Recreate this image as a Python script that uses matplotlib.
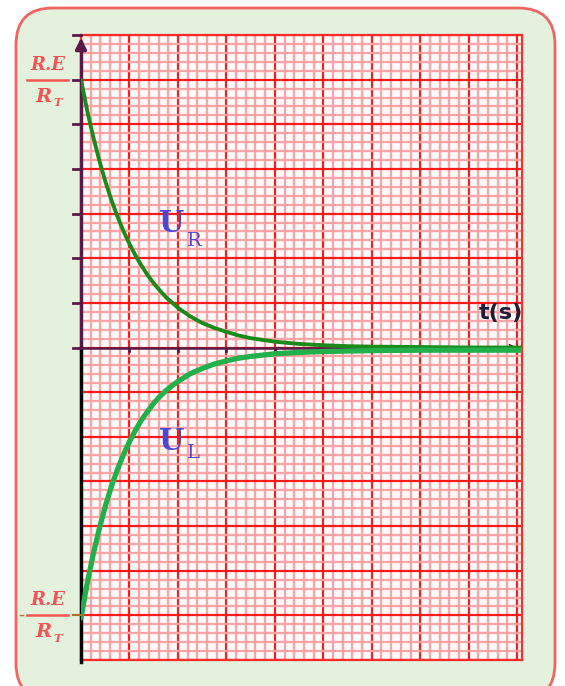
import numpy as np
import matplotlib
matplotlib.use("Agg")
import matplotlib.pyplot as plt
from matplotlib.patches import FancyBboxPatch
from matplotlib.lines import Line2D

# data (in grid major divisions)
t_R = [0, 0.125, 0.25, 0.375, 0.5, 0.625, 0.75, 0.875, 1.0, 1.125, 1.25, 1.375, 1.5, 1.625,
       1.75, 1.875, 2.0, 2.25, 2.5, 2.75, 3.0, 3.25, 3.5, 3.75, 4.0, 4.5, 5.0, 5.5, 6.0, 7.0, 8.0, 9.1]
u_R = [6.0, 5.32, 4.73, 4.20, 3.73, 3.31, 2.94, 2.61, 2.32, 2.06, 1.83, 1.62, 1.44, 1.28,
       1.13, 1.01, 0.89, 0.70, 0.55, 0.44, 0.35, 0.27, 0.21, 0.17, 0.13, 0.08, 0.05, 0.03, 0.02, 0.01, 0.0, 0.0]
t_L = [0, 0.125, 0.25, 0.375, 0.5, 0.625, 0.75, 0.875, 1.0, 1.125, 1.25, 1.375, 1.5, 1.625,
       1.75, 1.875, 2.0, 2.25, 2.5, 2.75, 3.0, 3.25, 3.5, 3.75, 4.0, 4.5, 5.0, 6.0, 7.0, 9.1]
u_L = [-6.0, -5.24, -4.58, -4.01, -3.50, -3.06, -2.68, -2.34, -2.05, -1.79, -1.56, -1.37, -1.19, -1.04,
       -0.91, -0.80, -0.70, -0.53, -0.41, -0.31, -0.24, -0.18, -0.14, -0.11, -0.08, -0.05, -0.03, -0.01, 0.0, 0.0]
label_top = "R.E"
label_bot = "R"
label_bot_sub = "T"
curve_R = "U"
curve_L = "U"
x_label = "t(s)"

W, H = 565, 686
fig = plt.figure(figsize=(W / 100, H / 100), dpi=100)

def fx(px):
    return px / W

def fy(py):
    return 1 - py / H

# rounded background
bg = FancyBboxPatch((fx(16), fy(700)), fx(555) - fx(16), fy(8) - fy(700),
                    boxstyle="round,pad=0,rounding_size=0.065",
                    transform=fig.transFigure, facecolor='#e4f1dc',
                    edgecolor='#f06464', lw=2, mutation_aspect=W / H, zorder=-10)
fig.patches.append(bg)

ax = fig.add_axes([fx(81), fy(660), fx(522) - fx(81), fy(35) - fy(660)])
ax.set_zorder(2)
ax.set_facecolor('white')
ax.set_xlim(0, 9.1)
ax.set_ylim(-7, 7)
ax.set_xticks(np.arange(0, 9.1, 1))
ax.set_xticks(np.arange(0, 9.1, 0.2), minor=True)
ax.set_yticks(np.arange(-7, 7.1, 1))
ax.set_yticks(np.arange(-7, 7.1, 0.2), minor=True)
ax.grid(which='minor', color='#ffa4a4', lw=1.7)
ax.grid(which='major', color='#ff1a1a', lw=1.6)
ax.tick_params(which='both', length=0, labelleft=False, labelbottom=False)
for s in ax.spines.values():
    s.set_color('#ff2a2a')
    s.set_linewidth(1.6)
ax.set_axisbelow(True)

purple = '#5a1a48'
# axes lines
ax.plot([0, 0], [0, 6.85], color=purple, lw=2.5, zorder=5, clip_on=False)
ax.plot([0, 0], [-7.05, 0], color='black', lw=2.5, zorder=5, clip_on=False)
ax.annotate('', xy=(0, 7.0), xytext=(0, 6.6),
            arrowprops=dict(arrowstyle='-|>', color=purple, lw=2.5,
                            mutation_scale=16), zorder=6, annotation_clip=False)
ax.plot([0, 8.95], [0, 0], color=purple, lw=1.8, zorder=5)
ax.annotate('', xy=(9.05, 0), xytext=(8.8, 0),
            arrowprops=dict(arrowstyle='->', color=purple, lw=1.2,
                            mutation_scale=10), zorder=6)
# y ticks (top half)
for yv in range(0, 8):
    ax.plot([-0.17, 0], [yv, yv], color=purple, lw=2, clip_on=False, zorder=5)
ax.plot([-0.17, 0], [-6, -6], color='#b07030', lw=1.5, clip_on=False, zorder=5)
for xv in range(1, 9):
    ax.plot([xv, xv], [0, -0.07], color=purple, lw=2, zorder=5)

# curves
ax.plot(t_R, u_R, color='#1a8a1a', lw=2.8, zorder=7, solid_capstyle='round',
        solid_joinstyle='round')
ax.plot(t_L, np.array(u_L) - 0.06, color='#22b04a', lw=3.8, zorder=7, solid_capstyle='round',
        solid_joinstyle='round')

red = '#f25555'
def frac(cy, minus=False):
    fig.text(fx(48), fy(cy - 15), label_top, color=red, fontsize=13,
             family='DejaVu Serif', style='italic', weight='bold',
             ha='center', va='center')
    fig.add_artist(Line2D([fx(27), fx(68)], [fy(cy), fy(cy)], color=red, lw=1.8,
                          transform=fig.transFigure))
    fig.text(fx(44), fy(cy + 17), label_bot, color=red, fontsize=14,
             family='DejaVu Serif', style='italic', weight='bold',
             ha='center', va='center')
    fig.text(fx(58), fy(cy + 23), label_bot_sub, color=red, fontsize=8,
             family='DejaVu Serif', style='italic', weight='bold',
             ha='center', va='center')
    if minus:
        fig.text(fx(21), fy(cy), '-', color='#c07030', fontsize=12,
                 ha='center', va='center')

frac(80)
frac(615, minus=True)

blue = '#4848d8'
fig.text(fx(172), fy(224), curve_R, color=blue, fontsize=21, family='DejaVu Serif',
         weight='bold', ha='center', va='center')
fig.text(fx(194), fy(241), "R", color=blue, fontsize=14, family='DejaVu Serif',
         ha='center', va='center')
fig.text(fx(172), fy(442), curve_L, color=blue, fontsize=21, family='DejaVu Serif',
         weight='bold', ha='center', va='center')
fig.text(fx(193), fy(453), "L", color=blue, fontsize=14, family='DejaVu Serif',
         ha='center', va='center')

fig.text(fx(501), fy(313), x_label, color='#1e1e3a', fontsize=16,
         family='DejaVu Sans', weight='bold', ha='center', va='center')

fig.savefig('out.png', dpi=100)
